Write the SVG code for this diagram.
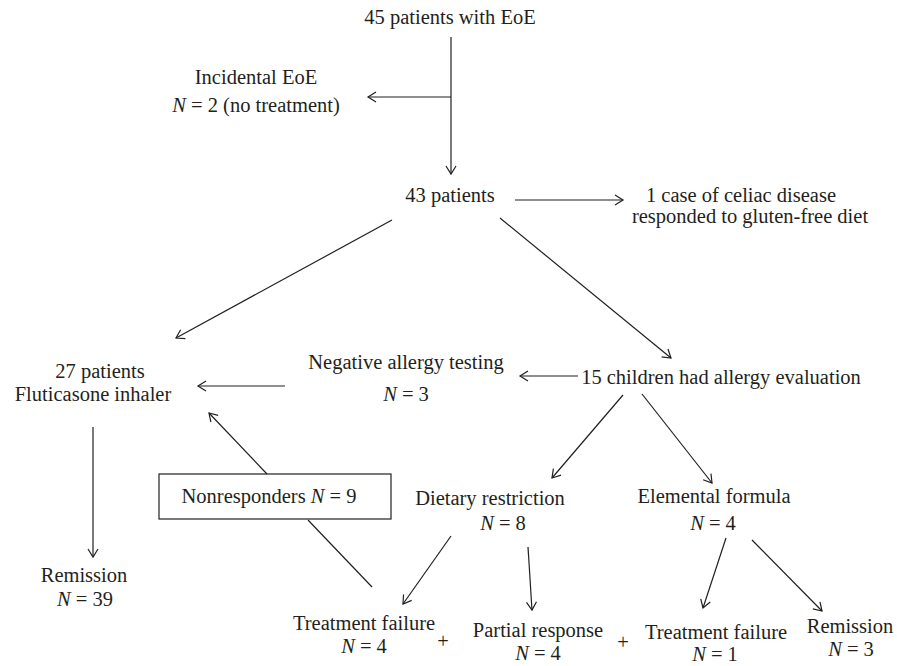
<svg xmlns="http://www.w3.org/2000/svg" width="897" height="666" viewBox="0 0 897 666">
<style>
text{font-size:20.5px;fill:#231f20;text-anchor:middle}
.i{font-style:italic}
.c line{stroke:#231f20;stroke-width:1.2;fill:none}
.a{marker-end:url(#ah)}
</style>
<defs>
<marker id="ah" markerWidth="12" markerHeight="12" refX="9" refY="5" orient="auto" markerUnits="userSpaceOnUse" viewBox="0 0 12 10">
<path d="M1,0 L9,5 L1,10" fill="none" stroke="#231f20" stroke-width="1.2"/>
</marker>
</defs>
<rect width="897" height="666" fill="#fff"/>
<g class="c" id="connectors">
<line class="a" x1="451" y1="37" x2="451" y2="174"/>
<line class="a" x1="451" y1="97" x2="368" y2="97"/>
<line class="a" x1="515" y1="200" x2="623" y2="200"/>
<line class="a" x1="392" y1="220" x2="176" y2="338"/>
<line class="a" x1="500" y1="218" x2="671" y2="358"/>
<line class="a" x1="285" y1="386" x2="198" y2="386"/>
<line class="a" x1="578" y1="376" x2="520" y2="376"/>
<line class="a" x1="623" y1="395" x2="552" y2="478"/>
<line class="a" x1="642" y1="394" x2="712" y2="483"/>
<line class="a" x1="451" y1="536" x2="403" y2="604"/>
<line class="a" x1="528" y1="547" x2="532" y2="610"/>
<line class="a" x1="726" y1="538" x2="703" y2="608"/>
<line class="a" x1="752" y1="540" x2="822" y2="611"/>
<line class="a" x1="267" y1="474" x2="209" y2="413"/>
<line x1="308" y1="520" x2="372" y2="587"/>
<line class="a" x1="93" y1="427" x2="93" y2="557"/>
</g>
<g font-family="'Liberation Serif', 'DejaVu Serif', serif">
<g id="n45"><text x="450" y="24">45 patients with EoE</text></g>
<g id="incidental"><text x="256" y="84">Incidental EoE</text><text x="256" y="112"><tspan class="i">N</tspan> = 2 (no treatment)</text></g>
<g id="n43"><text x="450" y="202">43 patients</text></g>
<g id="celiac"><text x="741" y="202">1 case of celiac disease</text><text x="750" y="223">responded to gluten-free diet</text></g>
<g id="n27"><text x="100" y="378">27 patients</text><text x="93" y="401">Fluticasone inhaler</text></g>
<g id="negative"><text x="406" y="369">Negative allergy testing</text><text x="406" y="401"><tspan class="i">N</tspan> = 3</text></g>
<g id="children"><text x="721" y="384">15 children had allergy evaluation</text></g>
<g id="dietary"><text x="490" y="505">Dietary restriction</text><text x="503" y="530"><tspan class="i">N</tspan> = 8</text></g>
<g id="elemental"><text x="714" y="503">Elemental formula</text><text x="713" y="530"><tspan class="i">N</tspan> = 4</text></g>
<g id="nonresp"><rect x="159" y="474" width="232" height="45" fill="none" stroke="#231f20" stroke-width="1.2"/><text x="269" y="503">Nonresponders <tspan class="i">N</tspan> = 9</text></g>
<g id="remission39"><text x="84" y="582">Remission</text><text x="85" y="606"><tspan class="i">N</tspan> = 39</text></g>
<g id="fail4"><text x="364" y="630">Treatment failure</text><text x="364" y="653"><tspan class="i">N</tspan> = 4</text></g>
<g id="plus1"><text x="443" y="648">+</text></g>
<g id="partial"><text x="538" y="637">Partial response</text><text x="538" y="660"><tspan class="i">N</tspan> = 4</text></g>
<g id="plus2"><text x="623" y="649">+</text></g>
<g id="fail1"><text x="716" y="639" font-size="20px">Treatment failure</text><text x="715" y="661" font-size="20px"><tspan class="i">N</tspan> = 1</text></g>
<g id="remission3"><text x="850" y="633">Remission</text><text x="851" y="656"><tspan class="i">N</tspan> = 3</text></g>
</g>
</svg>
